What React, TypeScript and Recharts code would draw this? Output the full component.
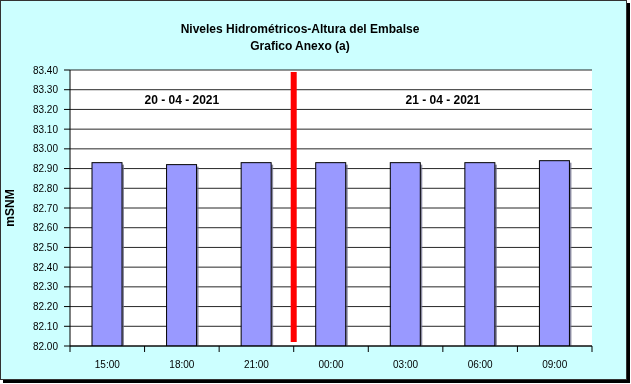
import { BarChart, Bar, XAxis, YAxis, CartesianGrid, ReferenceLine } from 'recharts'

const hours = ['15:00', '18:00', '21:00', '00:00', '03:00', '06:00', '09:00']
const levels = [82.93, 82.92, 82.93, 82.93, 82.93, 82.93, 82.94]
const yTicks = [
  82.0, 82.1, 82.2, 82.3, 82.4, 82.5, 82.6, 82.7, 82.8, 82.9, 83.0, 83.1, 83.2,
  83.3, 83.4,
]
const dayLabels = ['20 - 04 - 2021', '21 - 04 - 2021']

const font = 'Arial, "Liberation Sans", sans-serif'

const data = hours.map((h, i) => ({ hour: h, level: levels[i] }))

// bar with a small grey drop shadow, like the old spreadsheet charts
function ShadowBar(props: any) {
  const { x, y, width, height, fill } = props
  return (
    <g>
      <rect x={x + 2} y={y + 2} width={width} height={height - 2} fill="#6e6e8a" opacity={0.8} />
      <rect x={x} y={y} width={width} height={height} fill={fill} stroke="#000" strokeWidth={1} />
    </g>
  )
}

// label in the middle of the band, tick line on the band edge
function HourTick(props: any) {
  const { x, y, payload, index } = props
  const off = payload.offset ?? 0
  const last = index === hours.length - 1
  return (
    <g>
      <line x1={x - off} x2={x - off} y1={y - 8} y2={y - 2} stroke="#000" />
      {last && <line x1={x + off} x2={x + off} y1={y - 8} y2={y - 2} stroke="#000" />}
      <text x={x} y={y + 14} textAnchor="middle" fontSize={10} fill="#000" fontFamily={font}>
        {payload.value}
      </text>
    </g>
  )
}

export default function App() {
  return (
    <div style={{ position: 'fixed', left: 0, top: 0, width: 631, height: 384 }}>
      <div
        style={{
          position: 'absolute',
          left: 0,
          top: 0,
          width: 627,
          height: 380,
          boxSizing: 'border-box',
          border: '1px solid #333',
          background: '#ccffff',
          boxShadow: '3px 3px 0 #000',
        }}
      />
      <div
        style={{
          position: 'absolute',
          left: 0,
          top: 21,
          width: 600,
          textAlign: 'center',
          fontFamily: font,
          fontWeight: 'bold',
          fontSize: 12,
          lineHeight: '17px',
          color: '#000',
        }}
      >
        <div>Niveles Hidrométricos-Altura del Embalse</div>
        <div>Grafico Anexo (a)</div>
      </div>
      <div style={{ position: 'absolute', left: 0, top: 0 }}>
        <BarChart
          width={631}
          height={384}
          data={data}
          margin={{ top: 70, right: 39, bottom: 8, left: 0 }}
          barSize={30}
        >
          <CartesianGrid vertical={false} stroke="#000" fill="#fff" strokeOpacity={0.85} />
          <XAxis
            dataKey="hour"
            height={30}
            axisLine={{ stroke: '#000' }}
            tickLine={false}
            tick={<HourTick />}
            interval={0}
          />
          <YAxis
            width={70}
            domain={[82, 83.4]}
            ticks={yTicks}
            interval={0}
            allowDataOverflow
            tickFormatter={(v: number) => v.toFixed(2)}
            tick={{ fontSize: 10, fill: '#000', fontFamily: font }}
            tickSize={6}
            tickMargin={6}
            axisLine={{ stroke: '#000' }}
            tickLine={{ stroke: '#000' }}
            label={{
              value: 'mSNM',
              angle: -90,
              position: 'insideLeft',
              offset: 10,
              style: { fontSize: 12, fontWeight: 'bold', fill: '#000', fontFamily: font, textAnchor: 'middle' },
            }}
          />
          <YAxis
            yAxisId="frame"
            orientation="right"
            width={0}
            domain={[82, 83.4]}
            tick={false}
            tickLine={false}
            axisLine={{ stroke: '#000' }}
          />
          <Bar dataKey="level" fill="#9999ff" shape={<ShadowBar />} isAnimationActive={false} />
          <ReferenceLine
            segment={[
              { x: '21:00', y: 83.39 },
              { x: '21:00', y: 82.02 },
            ]}
            position="end"
            stroke="#ff0000"
            strokeWidth={6}
            ifOverflow="visible"
          />
          <ReferenceLine
            x="18:00"
            stroke="none"
            label={{
              value: dayLabels[0],
              position: 'insideTop',
              offset: 25,
              style: { fontSize: 12, fontWeight: 'bold', fill: '#000', fontFamily: font },
            }}
          />
          <ReferenceLine
            x="03:00"
            position="end"
            stroke="none"
            label={{
              value: dayLabels[1],
              position: 'insideTop',
              offset: 25,
              style: { fontSize: 12, fontWeight: 'bold', fill: '#000', fontFamily: font },
            }}
          />
        </BarChart>
      </div>
    </div>
  )
}
